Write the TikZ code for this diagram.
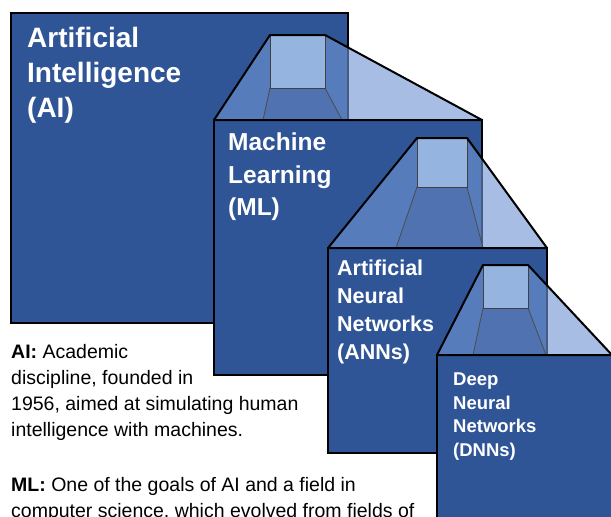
\documentclass[tikz,border=0pt]{standalone}
\usepackage{fontspec}
\setmainfont{Liberation Sans}
\usetikzlibrary{positioning}
\definecolor{boxc}{RGB}{47,85,151}
\definecolor{sidec}{RGB}{113,149,210}
\definecolor{floorc}{RGB}{80,114,176}
\definecolor{backc}{RGB}{150,180,224}
\tikzset{
  blk/.style={rectangle,draw=black,line width=2pt,fill=boxc,anchor=north west,inner sep=0pt,outer sep=0pt},
  lab/.style={align=left,text=white,inner sep=0pt,font=\bfseries},
  side/.style={fill=sidec,fill opacity=0.62},
  floor/.style={fill=floorc},
  back/.style={fill=backc,draw=black!75,line width=0.9pt},
  crease/.style={draw=black!70,line width=0.8pt},
  rim/.style={draw=black,line width=2pt,line join=round},
  note/.style={align=left,inner sep=0pt,font=\fontsize{19.5}{26}\selectfont},
}

\begin{document}
\begin{tikzpicture}[x=1pt,y=-1pt]
  \useasboundingbox (0,0) rectangle (611,517);
  \clip (0,0) rectangle (611,517);
  % nested boxes
  \node[blk,minimum width=337pt,minimum height=310pt] (ai) at (11,13){};
  \node[blk,minimum width=268pt,minimum height=255pt] (ml) at (214,120){};
  \node[blk,minimum width=219pt,minimum height=205pt] (ann) at (328,248){};
  \node[blk,minimum width=175pt,minimum height=190pt] (dnn) at (437,355){};
  % zoom funnels: parent/child/top x/top x/top y/back y/floor x/floor x
  \foreach \p/\c/\ta/\tb/\ty/\iy/\fa/\fb/\by in {ai/ml/270/325/35/88/263/342/120,
                                                 ml/ann/417/467/138/187/396/483/248,
                                                 ann/dnn/483/528/265/308/473/546/355}{
    \fill[side] (\c.north west) -- (\ta,\ty) -- (\tb,\ty) -- (\c.north east) -- cycle;
    \fill[floor] (\ta,\iy) -- (\tb,\iy) -- (\fb,\by) -- (\fa,\by) -- cycle;
    \draw[crease] (\ta,\iy) -- (\fa,\by) (\tb,\iy) -- (\fb,\by);
    \draw[back] (\ta,\ty) rectangle (\tb,\iy);
    \draw[rim] (\c.north west) -- (\ta,\ty) -- (\tb,\ty) -- (\c.north east) -- cycle;
  }
  % labels
  \node[lab,below right=14pt and 16pt of ai.north west,font=\bfseries\fontsize{28}{35}\selectfont] (ailab)
    {Artificial\\Intelligence\\(AI)};
  \node[lab,below right=13pt and 14pt of ml.north west,font=\bfseries\fontsize{24.5}{32.5}\selectfont] (mllab)
    {Machine\\Learning\\(ML)};
  \node[lab,below right=12pt and 9pt of ann.north west,font=\bfseries\fontsize{21.5}{28}\selectfont] (annlab)
    {Artificial\\Neural\\Networks\\(ANNs)};
  \node[lab,below right=18pt and 16pt of dnn.north west,font=\bfseries\fontsize{18.5}{23.5}\selectfont] (dnnlab)
    {Deep\\Neural\\Networks\\(DNNs)};
  % notes under the big box
  \node[note,below right=21pt and 0pt of ai.south west] (notes)
    {\textbf{AI:} Academic\\
     discipline, founded in\\
     1956, aimed at simulating human\\
     intelligence with machines.\\[29pt]
     \textbf{ML:} One of the goals of AI and a field in\\
     computer science, which evolved from fields of};
\end{tikzpicture}
\end{document}
